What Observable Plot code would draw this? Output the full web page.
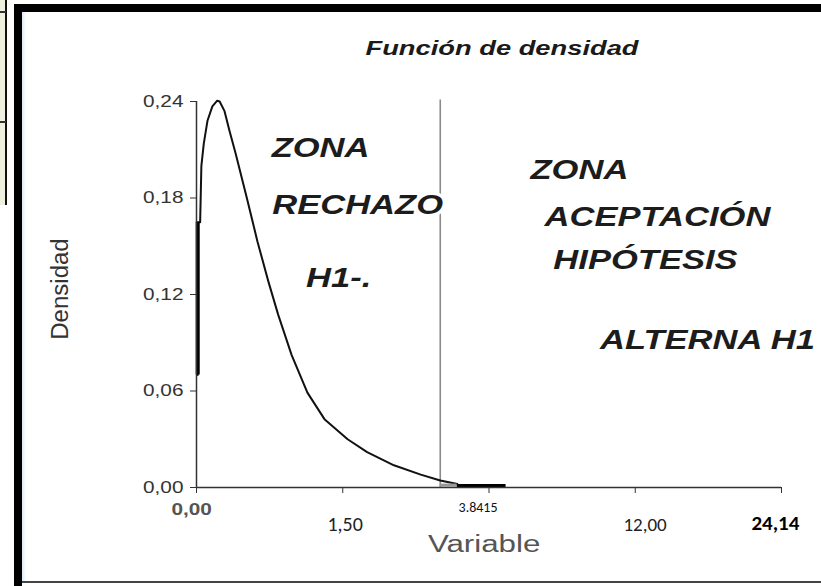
<!DOCTYPE html>
<html>
<head>
<meta charset="utf-8">
<script src="https://cdn.jsdelivr.net/npm/d3@7"></script>
<script src="https://cdn.jsdelivr.net/npm/@observablehq/plot@0.6"></script>
<style>
  html, body { margin: 0; padding: 0; background: #fff; }
  #wrap { position: relative; width: 821px; height: 586px; overflow: hidden; background: #fff; }
  .abs { position: absolute; }
  #title { left: 502px; top: 36px; transform: translateX(-50%) scaleX(1.3); white-space: nowrap; font: italic bold 21px "Liberation Sans", Arial, sans-serif; color: #1a1a1a; }
  #ylab { left: 61px; top: 289px; transform: translate(-50%, -50%) rotate(-90deg) scale(1.2, 1.15); font: 20px "Liberation Sans", Arial, sans-serif; color: #333; white-space: nowrap; }
  #chart { left: 0; top: 0; }
</style>
</head>
<body>
<div id="wrap">
  <div class="abs" style="left:0;top:0;width:6px;height:205px;background:#eef1dd;"></div>
  <div class="abs" style="left:5px;top:0;width:2px;height:205px;background:#111;"></div>
  <div class="abs" style="left:0;top:11px;width:6px;height:2px;background:#333;"></div>
  <div class="abs" style="left:0;top:121px;width:6px;height:2px;background:#333;"></div>
  <div class="abs" style="left:14px;top:4px;width:8px;height:582px;background:#000;"></div>
  <div class="abs" style="left:14px;top:4px;width:807px;height:8px;background:#000;"></div>
  <div class="abs" style="left:22px;top:12px;width:4px;height:570px;background:linear-gradient(to right,#dce8f8,#fff);"></div>
  <div class="abs" style="left:22px;top:581px;width:799px;height:2px;background:#444;"></div>
  <div id="chart" class="abs"></div>
  <div id="title" class="abs">Función de densidad</div>
  <div id="ylab" class="abs">Densidad</div>
</div>
<script>
// Density curve (x in axis units 0..24, y density)
const curveX = [0.05, 0.05, 0.15, 0.2, 0.3, 0.45, 0.65, 0.85, 0.95, 1.15, 1.35, 1.6, 2.05, 2.5, 2.95, 3.35, 3.9, 4.55, 5.25, 6.2, 7.0, 8.1, 9.2, 10.0, 10.7];
const curveY = [0.07, 0.165, 0.165, 0.20, 0.214, 0.228, 0.237, 0.2405, 0.240, 0.234, 0.222, 0.208, 0.181, 0.153, 0.128, 0.1075, 0.0825, 0.059, 0.0425, 0.030, 0.022, 0.0138, 0.008, 0.0044, 0.0022];

const yTicks = [0, 0.06, 0.12, 0.18, 0.24];
const xTicks = [0, 6, 12, 18, 24];
const critical = 10; // vertical line labelled 3.8415

// x tick labels as written on the picture
const xLabelText = ["0,00", "1,50", "3.8415", "12,00", "24,14"];
const xLabelAt = [-0.2, 6.1, 11.55, 18.4, 23.75];

// zone annotations
const zoneText = ["ZONA", "RECHAZO", "H1-.", "ZONA", "ACEPTACIÓN", "HIPÓTESIS", "ALTERNA H1"];
const zoneX = [5.09, 6.61, 5.83, 15.71, 18.91, 18.42, 20.96];
const zoneY = [0.2106, 0.1753, 0.130, 0.197, 0.168, 0.141, 0.0914];

const curve = curveX.map((x, i) => ({x, y: curveY[i]}));
const xl = xLabelText.map((t, i) => ({t, x: xLabelAt[i]}));
const zones = zoneText.map((t, i) => ({t, x: zoneX[i], y: zoneY[i]}));
const comma = d => d.toFixed(2).replace(".", ",");
const calibri = "Carlito, Lato, 'Open Sans', sans-serif";

const plot = Plot.plot({
  width: 821, height: 586,
  marginLeft: 196, marginRight: 40, marginTop: 101, marginBottom: 99,
  style: {background: "transparent", overflow: "visible", fontFamily: "'Liberation Sans', Arial, sans-serif"},
  x: {domain: [0, 24]},
  y: {domain: [0, 0.24]},
  marks: [
    Plot.axisY({ticks: yTicks, tickFormat: comma, tickSize: 6, tickPadding: 7, fontSize: 16, color: "#333", label: null, stroke: "#333"}),
    Plot.axisX({ticks: xTicks, tickFormat: () => "", tickSize: 6, label: null, stroke: "#333"}),
    Plot.ruleX([critical], {y1: 0, y2: 0.241, stroke: "#8a8a8a", strokeWidth: 1.6}),
    Plot.line(curve, {x: "x", y: "y", stroke: "#111", strokeWidth: 2}),
    Plot.ruleX([0.05], {y1: 0.07, y2: 0.165, stroke: "#000", strokeWidth: 4}),
    Plot.ruleY([0.0015], {x1: 10.0, x2: 10.7, stroke: "#999", strokeWidth: 3}),
    Plot.ruleY([0.0012], {x1: 10.7, x2: 12.7, stroke: "#000", strokeWidth: 3}),
    Plot.ruleX([0], {y1: 0, y2: 0.24, stroke: "#333", strokeWidth: 1.5}),
    Plot.ruleY([0], {x1: 0, x2: 24, stroke: "#333", strokeWidth: 1.5}),
    Plot.text(xl.slice(0, 1), {x: "x", y: 0, text: "t", dy: 22, fontSize: 16, fill: "#555", fontWeight: "bold"}),
    Plot.text(xl.slice(1, 2), {x: "x", y: 0, text: "t", dy: 37, fontSize: 20, fill: "#222", fontFamily: calibri}),
    Plot.text(xl.slice(2, 3), {x: "x", y: 0, text: "t", dy: 20, fontSize: 14, fill: "#111", fontFamily: calibri}),
    Plot.text(xl.slice(3, 4), {x: "x", y: 0, text: "t", dy: 37, fontSize: 19, fill: "#222", fontFamily: calibri}),
    Plot.text(xl.slice(4, 5), {x: "x", y: 0, text: "t", dy: 36, fontSize: 21, fill: "#000", fontWeight: "bold", fontFamily: calibri}),
    Plot.text(["Variable"], {x: 11.8, y: 0, text: d => d, dy: 57, fontSize: 23, fill: "#555"}),
    Plot.text(zones, {x: "x", y: "y", text: "t", fontSize: 27, fontWeight: "bold", fontStyle: "italic", fill: "#1c1c1c", stroke: "white", strokeWidth: 6})
  ]
});
document.getElementById("chart").appendChild(plot);

// horizontal stretch of some texts, to match the wide lettering of the picture
const stretchBy = new Map([
  ...zoneText.map(t => [t, 1.28]),
  ...yTicks.map(v => [comma(v), 1.3]),
  ["Variable", 1.36]
]);
const isNum = s => s != null && /^-?[\d.]+(e-?\d+)?$/.test(s.trim());
plot.querySelectorAll("text").forEach(t => {
  const sx = stretchBy.get(t.textContent);
  if (!sx) return;
  let tr = t.getAttribute("transform") || "";
  let tx = 0, ty = 0;
  if (isNum(t.getAttribute("x"))) { tx = +t.getAttribute("x"); t.removeAttribute("x"); }
  if (isNum(t.getAttribute("y"))) { ty = +t.getAttribute("y"); t.removeAttribute("y"); }
  if (tx || ty) tr = `translate(${tx},${ty}) ` + tr;
  t.setAttribute("transform", tr + ` scale(${sx},1)`);
});
</script>
</body>
</html>
